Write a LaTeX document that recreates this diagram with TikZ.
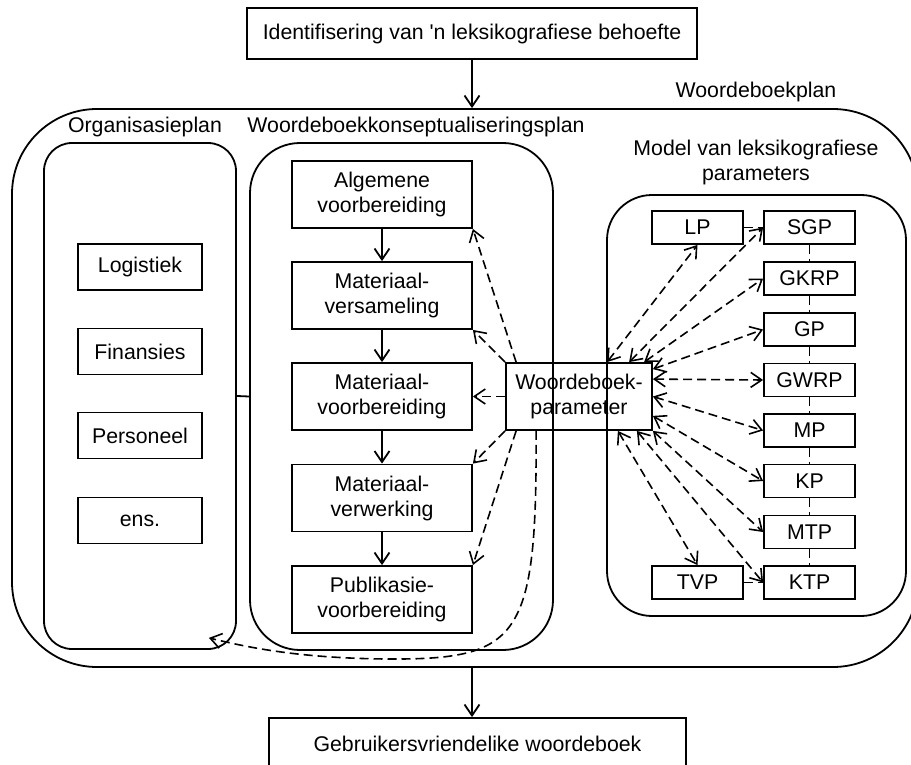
\documentclass[tikz,border=0pt]{standalone}
\usepackage{fontspec}
\setmainfont{Liberation Sans}
\usetikzlibrary{arrows.meta}
\begin{document}
\begin{tikzpicture}[x=1pt,y=-1pt,
  font=\fontsize{21.3}{25}\selectfont,
  line width=1.8pt,
  >={Straight Barb[length=11pt,width=15pt]},
  box/.style={draw, inner sep=0pt, align=center},
  cont/.style={draw, inner sep=0pt},
  dsh/.style={dash pattern=on 9pt off 5pt, line width=1.6pt},
  lbl/.style={inner sep=0pt, align=center},
  pbox/.style={box, minimum width=180pt, minimum height=67pt},
  obox/.style={box, minimum width=124pt, minimum height=46pt},
  mbox/.style={box, minimum width=91pt, minimum height=33pt}
]
\useasboundingbox (0,0) rectangle (911,765);
\clip (0,0) rectangle (911,765);

% containers
\node[cont, rounded corners=85pt, minimum width=906pt, minimum height=558pt] (plan) at (465,388) {};
\node[cont, rounded corners=28pt, minimum width=192pt, minimum height=506pt] (org) at (140,396) {};
\node[cont, rounded corners=50pt, minimum width=303pt, minimum height=507pt] (konsept) at (401.5,396.5) {};
\node[cont, rounded corners=45pt, minimum width=299pt, minimum height=421pt] (model) at (756.5,405.5) {};

% labels
\node[lbl] (lplan) at (756,92) {Woordeboekplan};
\node[lbl] (lorg) at (145,127) {Organisasieplan};
\node[lbl] (lkon) at (416,127) {Woordeboekkonseptualiseringsplan};
\node[lbl] (lmod) at (756,162) {Model van leksikografiese\\parameters};

% top / bottom
\node[box, minimum width=450pt, minimum height=51pt] (top) at (472,33.5) {Identifisering van \textquotesingle n leksikografiese behoefte};
\node[box, minimum width=417pt, minimum height=51pt] (bot) at (477.5,743.5) {Gebruikersvriendelike woordeboek};

% organisation boxes
\node[obox] (log) at (140,267) {Logistiek};
\node[obox] (fin) at (140,351.5) {Finansies};
\node[obox] (per) at (140,435.5) {Personeel};
\node[obox] (ens) at (140,520.5) {ens.};

% process boxes
\node[pbox] (alg) at (382,194.5) {Algemene\\voorbereiding};
\node[pbox] (ver) at (382,295.5) {Materiaal-\\versameling};
\node[pbox] (voo) at (382,396.5) {Materiaal-\\voorbereiding};
\node[pbox] (wer) at (382,498) {Materiaal-\\verwerking};
\node[pbox] (pub) at (382,599.5) {Publikasie-\\voorbereiding};

% parameter box
\node[box, minimum width=146pt, minimum height=67pt] (par) at (579,396.5) {Woordeboek-\\parameter};

% model boxes
\node[mbox] (lp) at (697.5,227.5) {LP};
\node[mbox] (sgp) at (809.5,227.5) {SGP};
\node[mbox] (gkrp) at (809.5,278.5) {GKRP};
\node[mbox] (gp) at (809.5,329.5) {GP};
\node[mbox] (gwrp) at (809.5,380) {GWRP};
\node[mbox] (mp) at (809.5,430.5) {MP};
\node[mbox] (kp) at (809.5,481) {KP};
\node[mbox] (mtp) at (809.5,532) {MTP};
\node[mbox] (ktp) at (809.5,582.5) {KTP};
\node[mbox] (tvp) at (697.5,582.5) {TVP};

% solid arrows
\draw[->] (top.south) -- (top.south |- plan.north);
\draw[->] (top.south |- plan.south) -- (top.south |- bot.north);
\draw[->] (alg) -- (ver);
\draw[->] (ver) -- (voo);
\draw[->] (voo) -- (wer);
\draw[->] (wer) -- (pub);
\draw (org.east) -- (konsept.west);

% dashed links in model column
\draw[dsh] (lp.east) -- (sgp.west);
\draw[dsh] (tvp.east) -- (ktp.west);
\draw[dsh] (sgp) -- (gkrp);
\draw[dsh] (gkrp) -- (gp);
\draw[dsh] (gp) -- (gwrp);
\draw[dsh] (gwrp) -- (mp);
\draw[dsh] (mp) -- (kp);
\draw[dsh] (kp) -- (mtp);
\draw[dsh] (mtp) -- (ktp);

% parameter to process boxes
\draw[dsh,->] ([xshift=11pt]par.north west) -- (alg.south east);
\draw[dsh,->] (par.north west) -- (ver.south east);
\draw[dsh,->] (par.west) -- (voo.east);
\draw[dsh,->] (par.south west) -- (wer.north east);
\draw[dsh,->] ([xshift=11pt]par.south west) -- (pub.north east);
\coordinate (orgtip) at ([xshift=-28pt,yshift=12pt]org.south east);
\draw[dsh,->] ([xshift=31pt]par.south west) .. controls (537,640) and (520,660) .. (385,659)
   .. controls (300,658) and (250,648) .. (orgtip);

% parameter to model
\draw[dsh,<->] ([xshift=102pt]par.north west) -- (lp.south);
\draw[dsh,<->] ([xshift=124pt]par.north west) -- (sgp.west);
\draw[dsh,<->] ([xshift=139pt]par.north west) -- (gkrp.west);
\draw[dsh,<->] ([yshift=-7pt]par.north east) -- (gp.west);
\draw[dsh,<->] ([yshift=-17pt]par.north east) -- (gwrp.west);
\draw[dsh,<->] (par.east) -- (mp.west);
\draw[dsh,<->] ([yshift=15pt]par.south east) -- (kp.west);
\draw[dsh,<->] (par.south east) -- (mtp.west);
\draw[dsh,<->] ([xshift=-16pt]par.south east) -- (ktp.west);
\draw[dsh,<->] ([xshift=-35pt]par.south east) -- (tvp.north);
\end{tikzpicture}
\end{document}
